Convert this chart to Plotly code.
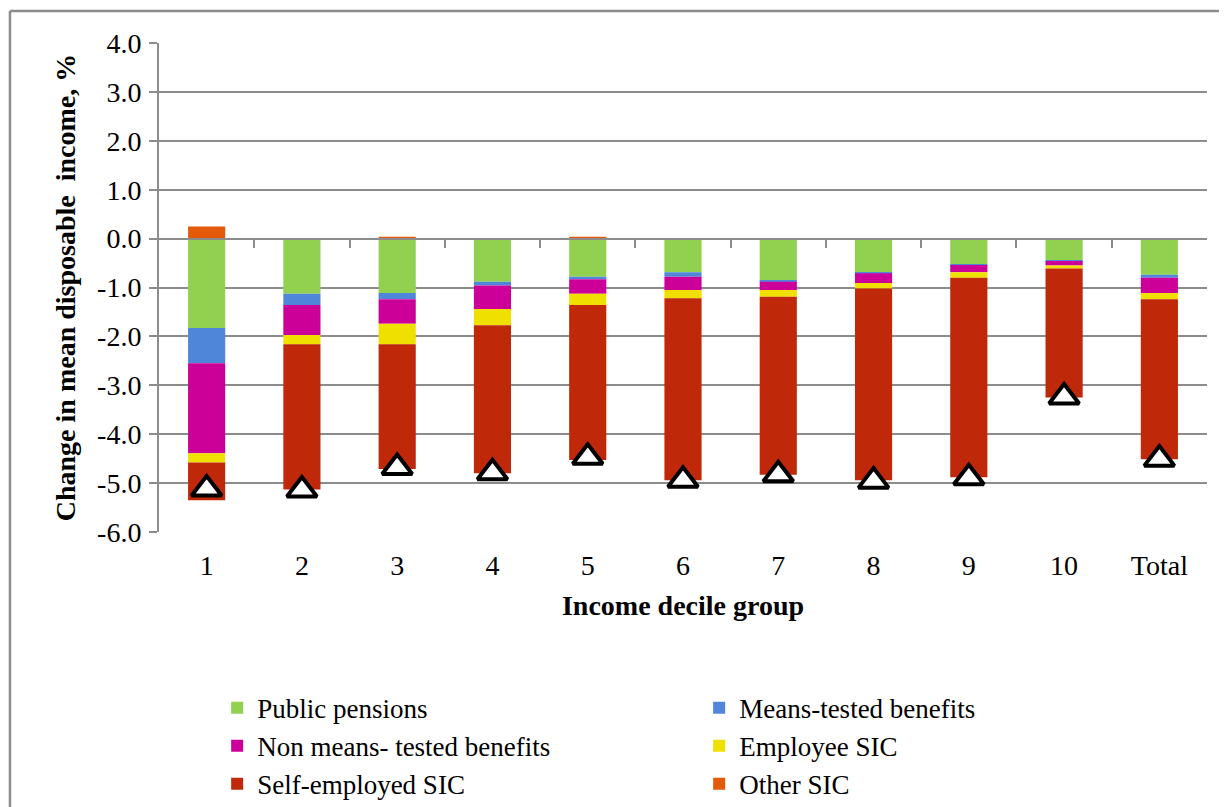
import plotly.graph_objects as go

categories = ["1", "2", "3", "4", "5", "6", "7", "8", "9", "10", "Total"]

public_pensions = [-1.83, -1.13, -1.11, -0.88, -0.78, -0.69, -0.86, -0.69, -0.52, -0.44, -0.74]
means_tested = [-0.72, -0.23, -0.13, -0.08, -0.05, -0.09, -0.02, -0.02, -0.02, -0.02, -0.06]
non_means_tested = [-1.84, -0.61, -0.50, -0.48, -0.30, -0.27, -0.17, -0.20, -0.15, -0.09, -0.31]
employee_sic = [-0.19, -0.19, -0.42, -0.33, -0.23, -0.17, -0.14, -0.11, -0.11, -0.06, -0.13]
self_employed_sic = [-0.77, -2.97, -2.55, -3.03, -3.17, -3.72, -3.64, -3.92, -4.08, -2.64, -3.27]
other_sic = [0.25, 0.0, 0.04, 0.0, 0.04, 0.0, 0.0, 0.0, 0.0, 0.0, 0.0]
total_change = [-5.12, -5.14, -4.68, -4.79, -4.47, -4.94, -4.83, -4.96, -4.89, -3.24, -4.51]

y_tickvals = [4, 3, 2, 1, 0, -1, -2, -3, -4, -5, -6]
y_ticktext = ["4.0", "3.0", "2.0", "1.0", "0.0", "-1.0", "-2.0", "-3.0", "-4.0", "-5.0", "-6.0"]

series = [
    ("Public pensions", public_pensions, "#92D050"),
    ("Means-tested benefits", means_tested, "#4F86DA"),
    ("Non means- tested benefits", non_means_tested, "#CC0099"),
    ("Employee SIC", employee_sic, "#F0E000"),
    ("Self-employed SIC", self_employed_sic, "#C0280A"),
    ("Other SIC", other_sic, "#E55A0A"),
]

FONT = "Liberation Serif"
GRID = "#8C8C8C"
xpos = list(range(len(categories)))

fig = go.Figure()
for name, vals, col in series:
    fig.add_trace(go.Bar(
        x=xpos, y=vals, name=name, width=0.39,
        marker=dict(color=col, line=dict(width=0)),
    ))

fig.add_trace(go.Scatter(
    x=xpos, y=total_change, mode="markers", xaxis="x2", showlegend=False,
    marker=dict(symbol="triangle-up", size=26, color="white",
                line=dict(color="black", width=4)),
))

fig.update_layout(
    width=1227, height=807,
    barmode="relative",
    paper_bgcolor="white", plot_bgcolor="white",
    margin=dict(l=151, r=28, t=35, b=283, autoexpand=False),
    font=dict(family=FONT, size=26, color="black"),
    xaxis=dict(
        range=[-0.5, 10.5], tickvals=xpos, ticktext=categories,
        showgrid=False, zeroline=False, showline=False, ticks="",
        ticklabelstandoff=14, automargin=False,
        tickfont=dict(size=28, family=FONT, color="black"),
        title=dict(text="<b>Income decile group</b>",
                   font=dict(size=28, family=FONT, color="black"), standoff=15),
    ),
    xaxis2=dict(
        overlaying="x", anchor="free", position=0.6, range=[-0.5, 10.5],
        tickvals=[i + 0.5 for i in range(10)], ticks="outside", ticklen=8,
        tickwidth=2, tickcolor=GRID, showticklabels=False,
        showline=True, linecolor=GRID, linewidth=2,
        showgrid=False, zeroline=False,
    ),
    yaxis=dict(
        range=[-6, 4], tickvals=y_tickvals, ticktext=y_ticktext,
        showgrid=True, gridcolor=GRID, gridwidth=2,
        showline=True, linecolor=GRID, linewidth=2,
        ticks="outside", ticklen=8, tickwidth=2, tickcolor=GRID,
        zeroline=False, ticklabelstandoff=2, automargin=False,
        tickfont=dict(size=28, family=FONT, color="black"),
        title=dict(text="<b>Change in mean disposable  income, %</b>",
                   font=dict(size=28, family=FONT, color="black"), standoff=13),
    ),
    legend=dict(
        orientation="h", x=0.0555, y=-0.31, xanchor="left", yanchor="top",
        entrywidth=437, traceorder="normal",
        font=dict(size=27, family=FONT, color="black"),
        bgcolor="rgba(0,0,0,0)",
    ),
    shapes=[
        dict(type="line", xref="paper", yref="paper", x0=-0.1422, x1=-0.1422,
             y0=-0.58, y1=1.0654, line=dict(color=GRID, width=2.5)),
        dict(type="line", xref="paper", yref="paper", x0=-0.1422, x1=1.03,
             y0=1.0654, y1=1.0654, line=dict(color=GRID, width=2.5)),
    ],
)

fig.write_html("out.html")
